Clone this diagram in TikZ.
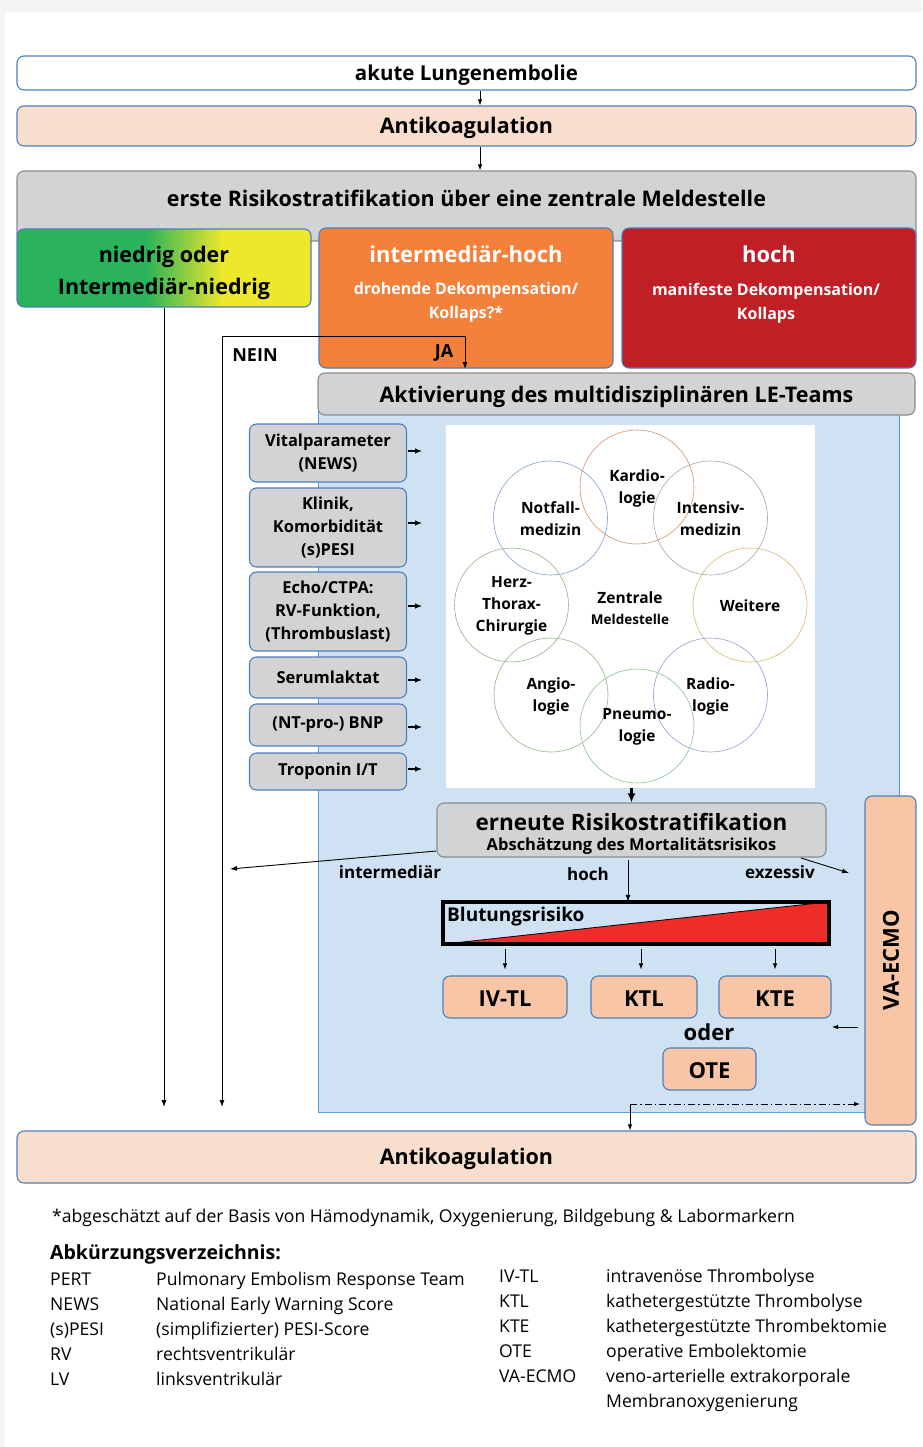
\documentclass[tikz,border=0pt]{standalone}
\usepackage{fontspec}
\setmainfont{Open Sans}
\usetikzlibrary{arrows.meta,calc}
\definecolor{bordb}{HTML}{4F7FBA}
\definecolor{peachl}{HTML}{F9DECE}
\definecolor{peachd}{HTML}{F8C5A7}
\definecolor{grayb}{HTML}{D1D3D4}
\definecolor{grayd}{HTML}{8A8C8E}
\definecolor{lgreen}{HTML}{2BB35B}
\definecolor{lyellow}{HTML}{EDE82A}
\definecolor{orng}{HTML}{F3813B}
\definecolor{redb}{HTML}{C01F26}
\definecolor{bluel}{HTML}{CFE2F4}
\definecolor{blueb}{HTML}{5B9BD5}
\definecolor{redt}{HTML}{EE2D2A}
\definecolor{cKar}{HTML}{D4936C}
\definecolor{cNot}{HTML}{7FA3CF}
\definecolor{cInt}{HTML}{A6A6A6}
\definecolor{cGrn}{HTML}{8FB880}
\definecolor{cWei}{HTML}{D9B870}
\definecolor{cRad}{HTML}{8FA0D3}
\definecolor{cPne}{HTML}{86C48C}
\pgfdeclarehorizontalshading{gyshade}{100bp}{color(0bp)=(lgreen); color(47bp)=(lgreen); color(60bp)=(lyellow); color(100bp)=(lyellow)}
\tikzset{
  box/.style={draw=bordb, line width=1.1pt, rounded corners=7pt, inner sep=0pt, align=center},
  graybox/.style={box, fill=grayb, draw=grayd},
  sidebox/.style={box, fill=grayb, minimum width=157pt, font=\fontsize{16.5}{23}\selectfont\bfseries},
  treat/.style={box, fill=peachd, font=\fontsize{22}{26}\selectfont\bfseries},
  arr/.style={-{Latex[length=7pt,width=5pt]}, line width=0.9pt},
  arrs/.style={-{Latex[length=6pt,width=4.5pt]}, line width=0.9pt},
  circ/.style={circle, minimum size=114pt, inner sep=0pt, line width=0.6pt, draw},
  ctext/.style={align=center, font=\fontsize{15.5}{22}\selectfont\bfseries},
  lbl/.style={font=\fontsize{17}{20}\selectfont\bfseries, inner sep=0pt},
  leg/.style={font=\fontsize{17.6}{20}\selectfont, anchor=base west, inner sep=0pt},
  ttl/.style={font=\fontsize{21.5}{24}\selectfont\bfseries, inner sep=0pt},
}
\begin{document}
\begin{tikzpicture}[x=1pt,y=-1pt]
\useasboundingbox (0,0) rectangle (922,1447);
\fill[black!4] (0,0) rectangle (922,1447);
\fill[white] (5,12) rectangle (922,1447);

% top chain
\node[box, fill=white, minimum width=899pt, minimum height=34pt] (ale) at (466.5,73) {};
\node[ttl, font=\fontsize{20.5}{24}\selectfont\bfseries] (alet) at (466.5,75) {akute Lungenembolie};
\node[box, fill=peachl, minimum width=899pt, minimum height=40pt] (ak1) at (466.5,126) {};
\node[ttl] (ak1t) at (466.5,128) {Antikoagulation};
\coordinate (ax) at (480,0);
\draw[arrs] (ale.south -| ax) -- (ak1.north -| ax);
\node[graybox, minimum width=899pt, minimum height=70pt] (rs1) at (466.5,206) {};
\node[ttl] (rs1t) at (466.5,198) {erste Risikostratifikation über eine zentrale Meldestelle};
\draw[arrs] (ak1.south -| ax) -- (rs1.north -| ax);

% risk classes
\node[box, shading=gyshade, minimum width=294pt, minimum height=78pt] (low) at (164,268) {};
\node[ttl, font=\fontsize{21.5}{32}\selectfont\bfseries, align=center] (lowt) at (164,273) {niedrig oder\\Intermediär-niedrig};
\node[box, fill=orng, minimum width=294pt, minimum height=140pt] (ih) at (466,298) {};
\node[ttl, font=\fontsize{22}{26}\selectfont\bfseries, text=white] (iht) at (466,254) {intermediär-hoch};
\node[font=\fontsize{16}{24}\selectfont\bfseries, text=white, align=center, inner sep=0pt] (ihs) at (466,302) {drohende Dekompensation/\\Kollaps?*};
\node[box, fill=redb, minimum width=294pt, minimum height=140pt] (hi) at (769,298) {};
\node[ttl, font=\fontsize{22}{26}\selectfont\bfseries, text=white] (hit) at (769,254) {hoch};
\node[font=\fontsize{16}{24}\selectfont\bfseries, text=white, align=center, inner sep=0pt] (his) at (766,303) {manifeste Dekompensation/\\Kollaps};

% blue region
\node[draw=blueb, fill=bluel, line width=1pt, minimum width=581pt, minimum height=707pt, inner sep=0pt] (blue) at (608.5,758.5) {};
\node[graybox, minimum width=597pt, minimum height=42pt] (akt) at (616.5,394) {};
\node[ttl] (aktt) at (616.5,397) {Aktivierung des multidisziplinären LE-Teams};

% NEIN / JA
\coordinate (neinEnd) at (222,1107);
\coordinate (neinTop) at (222,336);
\coordinate (jaEnd) at (465,369);
\draw[{Latex[length=7pt,width=5pt]}-{Latex[length=7pt,width=5pt]}, line width=0.9pt] (neinEnd) -- (neinTop) -| (jaEnd);
\node[lbl, font=\fontsize{18}{20}\selectfont\bfseries] (nein) at (255,355) {NEIN};
\node[lbl, font=\fontsize{18}{20}\selectfont\bfseries] (ja) at (444,353) {JA};
\coordinate (lowEnd) at (164,1107);
\draw[arr] (low.south) -- (lowEnd);

% side boxes
\node[sidebox, minimum height=58pt] (s1) at (328,453) {Vitalparameter\\(NEWS)};
\node[sidebox, minimum height=79pt] (s2) at (328,527.5) {Klinik,\\Komorbidität\\(s)PESI};
\node[sidebox, minimum height=79pt] (s3) at (328,611.5) {Echo/CTPA:\\RV-Funktion,\\(Thrombuslast)};
\node[sidebox, minimum height=41pt] (s4) at (328,677.5) {Serumlaktat};
\node[sidebox, minimum height=42pt] (s5) at (328,725) {(NT-pro-) BNP};
\node[sidebox, minimum height=37pt] (s6) at (328,771.5) {Troponin I/T};
\foreach \s/\y in {s1/451,s2/523,s3/606,s4/680,s5/727,s6/769}{
  \draw[-{Latex[length=7pt,width=5.5pt]}, line width=1.1pt] (408,\y) -- (422,\y);
}

% team circles
\node[fill=white, minimum width=369pt, minimum height=363pt, inner sep=0pt] (team) at (630.5,606.5) {};
\node[circ, draw=cKar] (cK) at (637,487) {};
\node[circ, draw=cNot] (cN) at (550.5,518) {};
\node[circ, draw=cInt] (cI) at (710.5,518) {};
\node[circ, draw=cGrn] (cH) at (511.5,605) {};
\node[circ, draw=cWei] (cW) at (750,605) {};
\node[circ, draw=cGrn] (cA) at (551,695) {};
\node[circ, draw=cRad] (cR) at (710.5,695) {};
\node[circ, draw=cPne] (cP) at (637,726) {};
\node[ctext] at ([yshift=-1pt]cK) {Kardio-\\logie};
\node[ctext] at ([yshift=-1pt]cN) {Notfall-\\medizin};
\node[ctext] at ([yshift=-1pt]cI) {Intensiv-\\medizin};
\node[ctext] at ([yshift=-1pt]cH) {Herz-\\Thorax-\\Chirurgie};
\node[ctext] at ([yshift=-1pt]cW) {Weitere};
\node[ctext] at ([yshift=-1pt]cA) {Angio-\\logie};
\node[ctext] at ([yshift=-1pt]cR) {Radio-\\logie};
\node[ctext] at ([yshift=-1pt]cP) {Pneumo-\\logie};
\node[ctext, font=\fontsize{15.5}{21}\selectfont\bfseries] (zm) at (630,608) {Zentrale\\{\fontsize{13.5}{16}\selectfont Meldestelle}};

% re-stratification
\node[graybox, minimum width=389pt, minimum height=54pt] (rs2) at (631.5,830) {};
\node[ttl, font=\fontsize{22.5}{26}\selectfont\bfseries] (rs2a) at (631.5,822) {erneute Risikostratifikation};
\node[ttl, font=\fontsize{16.5}{20}\selectfont\bfseries] (rs2b) at (631.5,846) {Abschätzung des Mortalitätsrisikos};
\draw[-{Latex[length=9pt,width=8pt]}, line width=2.6pt] (team.south -| rs2) -- (rs2.north);

\coordinate (intEnd) at (230,869);
\draw[arr] ([yshift=-21pt]rs2.west) -- (intEnd);
\node[lbl] (intl) at (390,872) {intermediär};
\coordinate (exzEnd) at (849,873);
\draw[arr] (801,858) -- (exzEnd);
\node[lbl] (exzl) at (780,872) {exzessiv};
\node[lbl] (hochl) at (588,874) {hoch};

% bleeding risk
\node[minimum width=386pt, minimum height=42pt, inner sep=0pt] (bl) at (636,923) {};
\fill[redt] (bl.south west) -- (bl.north east) -- (bl.south east) -- cycle;
\draw[line width=0.8pt] (bl.south west) -- (bl.north east);
\draw[line width=3.5pt] (bl.south west) rectangle (bl.north east);
\node[font=\fontsize{19}{22}\selectfont\bfseries, anchor=west, inner sep=0pt] (blt) at (447,917) {Blutungsrisiko};
\draw[arr] (628,860) -- (bl.north -| 628,0);

% treatments
\node[treat, minimum width=124pt, minimum height=42pt] (iv) at (505,997) {};
\node[ttl, font=\fontsize{22}{26}\selectfont\bfseries] at (505,999) {IV-TL};
\node[treat, minimum width=106pt, minimum height=42pt] (ktl) at (644,997) {};
\node[ttl, font=\fontsize{22}{26}\selectfont\bfseries] at (644,999) {KTL};
\node[treat, minimum width=112pt, minimum height=42pt] (kte) at (775,997) {};
\node[ttl, font=\fontsize{22}{26}\selectfont\bfseries] at (775,999) {KTE};
\node[ttl, font=\fontsize{22}{26}\selectfont\bfseries] (oder) at (709,1032) {oder};
\node[treat, minimum width=93pt, minimum height=42pt] (ote) at (709.5,1069) {};
\node[ttl, font=\fontsize{22}{26}\selectfont\bfseries] at (709.5,1071) {OTE};
\draw[arrs] ([yshift=26pt]iv.north) -- ([yshift=6pt]iv.north);
\draw[arrs] ([xshift=-3pt,yshift=26pt]ktl.north) -- ([xshift=-3pt,yshift=6pt]ktl.north);
\draw[arrs] ([yshift=26pt]kte.north) -- ([yshift=6pt]kte.north);

% VA-ECMO
\node[treat, minimum width=51pt, minimum height=329pt] (ecmo) at (890.5,960.5) {};
\node[font=\fontsize{22}{26}\selectfont\bfseries, rotate=90, inner sep=0pt] (ecmot) at (891,960) {VA-ECMO};
\coordinate (ecmoIn) at (832,1027);
\draw[arrs] (858,1027) -- (ecmoIn);

% bottom
\node[box, fill=peachl, minimum width=899pt, minimum height=52pt] (ak2) at (466.5,1157) {};
\node[ttl] (ak2t) at (466.5,1159) {Antikoagulation};
\coordinate (dd) at (630,1104);
\coordinate (ddE) at (860,1104);
\draw[arrs, dash pattern=on 7pt off 3pt on 1.5pt off 3pt] (dd) -- (ddE);
\draw[arrs] (dd) -- (dd |- ak2.north);

% footnote and legend
\node[leg] (fn) at (52,1222) {*abgeschätzt auf der Basis von Hämodynamik, Oxygenierung, Bildgebung \& Labormarkern};
\node[leg, font=\fontsize{19.5}{22}\selectfont\bfseries] (abk) at (50,1259) {Abkürzungsverzeichnis:};
\foreach \a/\d [count=\i from 0] in {PERT/Pulmonary Embolism Response Team, NEWS/National Early Warning Score, (s)PESI/(simplifizierter) PESI-Score, RV/rechtsventrikulär, LV/linksventrikulär}{
  \node[leg] at (50,1285+25*\i) {\a};
  \node[leg] at (156,1285+25*\i) {\d};
}
\foreach \a/\d [count=\i from 0] in {IV-TL/intravenöse Thrombolyse, KTL/kathetergestützte Thrombolyse, KTE/kathetergestützte Thrombektomie, OTE/operative Embolektomie, VA-ECMO/veno-arterielle extrakorporale}{
  \node[leg] at (499,1282+25*\i) {\a};
  \node[leg] at (606,1282+25*\i) {\d};
}
\node[leg] (membr) at (606,1407) {Membranoxygenierung};
\end{tikzpicture}
\end{document}
